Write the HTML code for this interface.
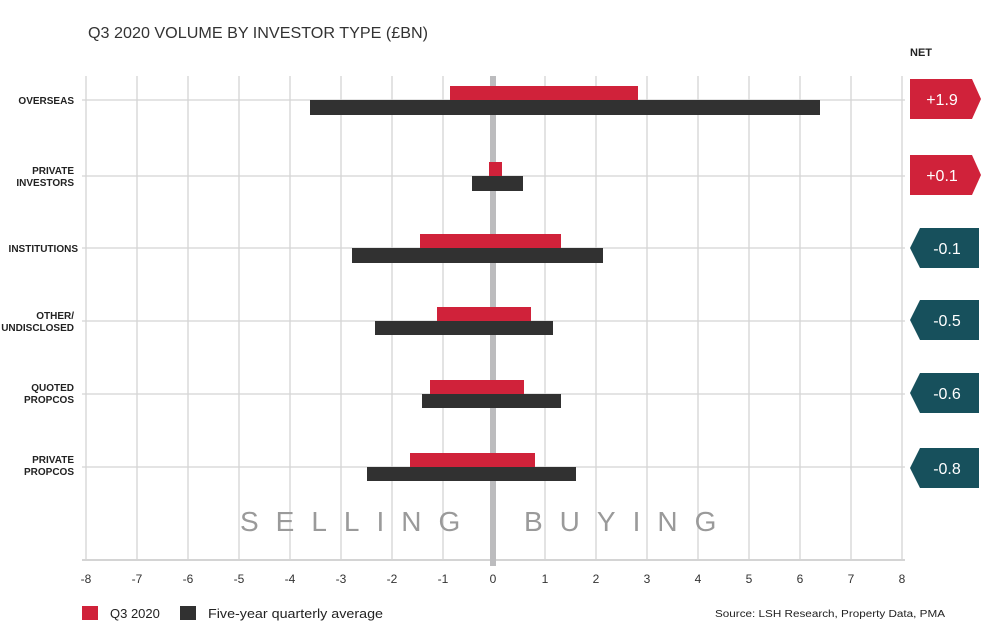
<!DOCTYPE html>
<html><head><meta charset="utf-8"><style>
html,body{margin:0;padding:0;background:#fff}
svg{display:block}
text{font-family:"Liberation Sans",sans-serif}
</style></head><body>
<svg width="999" height="644" viewBox="0 0 999 644" xmlns="http://www.w3.org/2000/svg">
<text x="88" y="38" font-size="16" fill="#333" textLength="340" lengthAdjust="spacingAndGlyphs">Q3 2020 VOLUME BY INVESTOR TYPE (£BN)</text>
<text x="910" y="56" font-size="11" font-weight="bold" fill="#222">NET</text>
<g stroke="#d4d4d4" stroke-width="1.3">
<line x1="86" y1="76" x2="86" y2="560"/><line x1="137" y1="76" x2="137" y2="560"/><line x1="188" y1="76" x2="188" y2="560"/><line x1="239" y1="76" x2="239" y2="560"/><line x1="290" y1="76" x2="290" y2="560"/><line x1="341" y1="76" x2="341" y2="560"/><line x1="392" y1="76" x2="392" y2="560"/><line x1="443" y1="76" x2="443" y2="560"/><line x1="545" y1="76" x2="545" y2="560"/><line x1="596" y1="76" x2="596" y2="560"/><line x1="647" y1="76" x2="647" y2="560"/><line x1="698" y1="76" x2="698" y2="560"/><line x1="749" y1="76" x2="749" y2="560"/><line x1="800" y1="76" x2="800" y2="560"/><line x1="851" y1="76" x2="851" y2="560"/><line x1="902" y1="76" x2="902" y2="560"/>
<line x1="82" y1="100" x2="905" y2="100"/><line x1="82" y1="176" x2="905" y2="176"/><line x1="82" y1="248" x2="905" y2="248"/><line x1="82" y1="321" x2="905" y2="321"/><line x1="82" y1="394" x2="905" y2="394"/><line x1="82" y1="467" x2="905" y2="467"/>
<line x1="82" y1="560" x2="905" y2="560" stroke-width="2"/>
</g>
<rect x="490" y="76" width="6" height="490" fill="#bcbcbe"/>
<g fill="#d0223a">
<rect x="450" y="86" width="188" height="14"/>
<rect x="489" y="162" width="13" height="14"/>
<rect x="420" y="234" width="141" height="14"/>
<rect x="437" y="307" width="94" height="14"/>
<rect x="430" y="380" width="94" height="14"/>
<rect x="410" y="453" width="125" height="14"/>
</g>
<g fill="#313131">
<rect x="310" y="100" width="510" height="15"/>
<rect x="472" y="176" width="51" height="15"/>
<rect x="352" y="248" width="251" height="15"/>
<rect x="375" y="321" width="178" height="14"/>
<rect x="422" y="394" width="139" height="14"/>
<rect x="367" y="467" width="209" height="14"/>
</g>
<g font-size="10" fill="#222" font-weight="bold" text-anchor="end">
<text x="74" y="104">OVERSEAS</text>
<text x="74" y="174">PRIVATE</text><text x="74" y="186">INVESTORS</text>
<text x="78" y="252">INSTITUTIONS</text>
<text x="74" y="319">OTHER/</text><text x="74" y="331">UNDISCLOSED</text>
<text x="74" y="391">QUOTED</text><text x="74" y="403">PROPCOS</text>
<text x="74" y="463">PRIVATE</text><text x="74" y="475">PROPCOS</text>
</g>
<g font-size="28" fill="#9a9a9a">
<text x="240" y="531" letter-spacing="17">SELLING</text>
<text x="524" y="531" letter-spacing="17">BUYING</text>
</g>
<g font-size="12" fill="#333" text-anchor="middle">
<text x="86" y="583">-8</text><text x="137" y="583">-7</text><text x="188" y="583">-6</text><text x="239" y="583">-5</text><text x="290" y="583">-4</text><text x="341" y="583">-3</text><text x="392" y="583">-2</text><text x="443" y="583">-1</text><text x="493" y="583">0</text><text x="545" y="583">1</text><text x="596" y="583">2</text><text x="647" y="583">3</text><text x="698" y="583">4</text><text x="749" y="583">5</text><text x="800" y="583">6</text><text x="851" y="583">7</text><text x="902" y="583">8</text>
</g>
<rect x="82" y="606" width="16" height="14" fill="#d0223a"/>
<text x="110" y="618" font-size="13" fill="#222">Q3 2020</text>
<rect x="180" y="606" width="16" height="14" fill="#313131"/>
<text x="208" y="618" font-size="13" fill="#222" textLength="175" lengthAdjust="spacingAndGlyphs">Five-year quarterly average</text>
<text x="945" y="617" font-size="10" fill="#222" text-anchor="end" textLength="230" lengthAdjust="spacingAndGlyphs">Source: LSH Research, Property Data, PMA</text>
<g font-size="16" fill="#fff" text-anchor="middle">
<polygon points="910,79 972,79 981,99 972,119 910,119" fill="#d0223a"/><text x="942" y="105">+1.9</text>
<polygon points="910,155 972,155 981,175 972,195 910,195" fill="#d0223a"/><text x="942" y="181">+0.1</text>
<polygon points="920,228 979,228 979,268 920,268 910,248" fill="#17505c"/><text x="947" y="254">-0.1</text>
<polygon points="920,300 979,300 979,340 920,340 910,320" fill="#17505c"/><text x="947" y="326">-0.5</text>
<polygon points="920,373 979,373 979,413 920,413 910,393" fill="#17505c"/><text x="947" y="399">-0.6</text>
<polygon points="920,448 979,448 979,488 920,488 910,468" fill="#17505c"/><text x="947" y="474">-0.8</text>
</g>
</svg>
</body></html>
